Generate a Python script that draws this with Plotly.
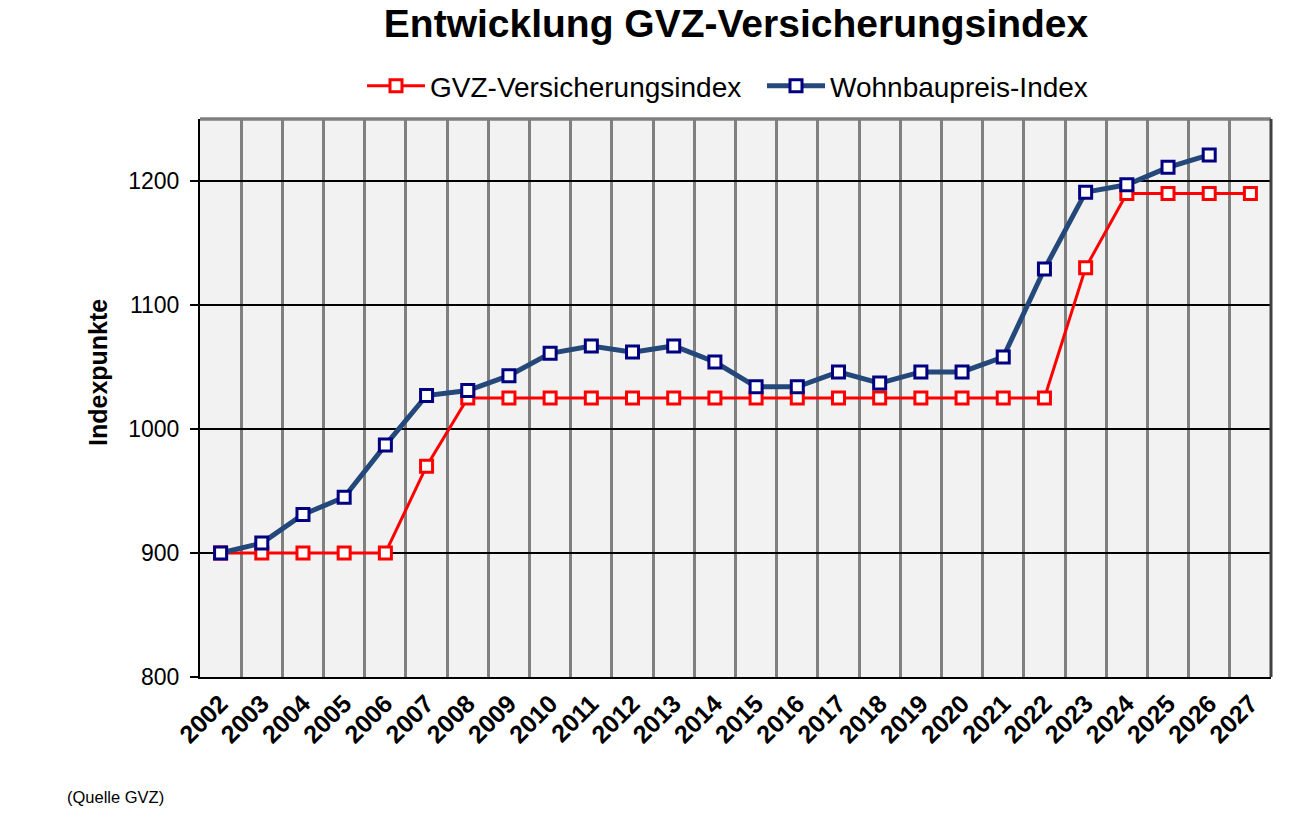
import plotly.graph_objects as go

years = [str(y) for y in range(2002, 2028)]

gvz_index = [900, 900, 900, 900, 900, 970, 1025, 1025, 1025, 1025, 1025, 1025, 1025,
             1025, 1025, 1025, 1025, 1025, 1025, 1025, 1025, 1130, 1190, 1190, 1190, 1190]

wohnbau_index = [900, 908, 931, 945, 987, 1027, 1031, 1043, 1061, 1067, 1062, 1067, 1054,
                 1034, 1034, 1046, 1037, 1046, 1046, 1058, 1129, 1191, 1197, 1211, 1221]

y_ticks = [800, 900, 1000, 1100, 1200]

FONT = "Liberation Sans, Arial, sans-serif"

x_pos = list(range(len(years)))

fig = go.Figure()
fig.add_trace(go.Scatter(
    x=x_pos[:len(gvz_index)], y=gvz_index, name="GVZ-Versicherungsindex",
    mode="lines+markers",
    line=dict(color="#FF0000", width=3),
    marker=dict(symbol="square", size=12, color="white",
                line=dict(color="#FF0000", width=3)),
))
fig.add_trace(go.Scatter(
    x=x_pos[:len(wohnbau_index)], y=wohnbau_index, name="Wohnbaupreis-Index",
    mode="lines+markers",
    line=dict(color="#24487A", width=5),
    marker=dict(symbol="square", size=12, color="white",
                line=dict(color="#000080", width=3)),
))

fig.update_layout(
    width=1302, height=820,
    margin=dict(l=200, r=31, t=119, b=143),
    paper_bgcolor="white",
    plot_bgcolor="#F2F2F2",
    font=dict(family=FONT, color="black"),
    title=dict(text="<b>Entwicklung GVZ-Versicherungsindex</b>",
               font=dict(size=39, family=FONT, color="black"),
               x=(736 - 200) / 1071, xref="paper", xanchor="center",
               y=1 - 23 / 820, yref="container", yanchor="middle"),
    legend=dict(orientation="h", x=(362 - 200) / 1071, xanchor="left",
                y=1 + 33 / 558, yanchor="middle",
                font=dict(size=28, family=FONT, color="black"),
                bgcolor="rgba(0,0,0,0)", itemwidth=58,
                entrywidth=327, entrywidthmode="pixels"),
    showlegend=True,
    xaxis=dict(
        range=[-0.5, len(years) - 0.5],
        tickmode="array", tickvals=x_pos, ticktext=years,
        tickangle=-45,
        tickfont=dict(size=25, family=FONT, color="black", weight="bold"),
        showgrid=False, zeroline=False,
        showline=True, linecolor="black", linewidth=2,
        ticks="",
        minor=dict(tickmode="array",
                   tickvals=[i + 0.5 for i in x_pos[:-1]],
                   showgrid=True, gridcolor="#808080", gridwidth=2.5, ticks=""),
    ),
    yaxis=dict(
        range=[800, 1250],
        tickmode="array", tickvals=y_ticks,
        tickfont=dict(size=23, family=FONT, color="black"),
        showgrid=True, gridcolor="black", gridwidth=1.5,
        zeroline=False,
        showline=True, linecolor="black", linewidth=2,
        ticks="outside", ticklen=8, tickcolor="black", tickwidth=1.5,
        ticklabelstandoff=6,
    ),
    shapes=[
        dict(type="line", xref="paper", yref="paper", x0=0, x1=1, y0=1, y1=1,
             line=dict(color="#808080", width=3.5), layer="above"),
        dict(type="line", xref="paper", yref="paper", x0=1, x1=1, y0=0, y1=1,
             line=dict(color="#404040", width=3), layer="above"),
    ],
    annotations=[
        dict(text="<b>Indexpunkte</b>", xref="paper", yref="paper",
             x=(98 - 200) / 1071, y=(677 - 373) / 558,
             xanchor="center", yanchor="middle", textangle=-90, showarrow=False,
             font=dict(size=25, family=FONT, color="black")),
        dict(text="(Quelle GVZ)", xref="paper", yref="paper",
             x=(65 - 200) / 1071, y=(677 - 797) / 558,
             xanchor="left", yanchor="middle", showarrow=False,
             font=dict(size=16.5, family=FONT, color="black")),
    ],
)

fig.write_html("out.html")
